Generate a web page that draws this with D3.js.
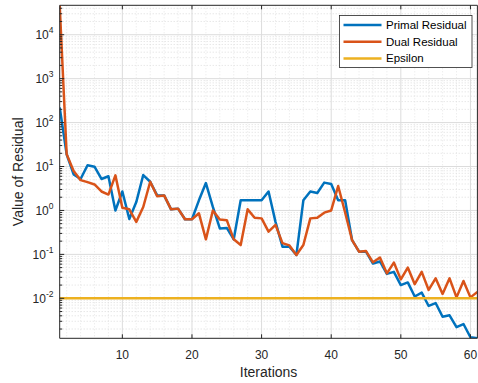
<!DOCTYPE html>
<html><head><meta charset="utf-8">
<script src="https://cdn.jsdelivr.net/npm/d3@7"></script>
<style>
body{margin:0;background:#fff;}
text{font-family:Arial,"Liberation Sans",Helvetica,sans-serif;}
</style></head>
<body>
<svg id="c" width="478" height="383"></svg>
<script>
const iterations = d3.range(1, 62);
const primalResidual = [220,19,6.6,5.2,10.7,9.9,5.2,6.0,1.0,2.7,
 0.64,1.55,6.4,4.5,2.2,2.2,1.06,1.1,0.63,0.63,
 1.7,4.2,1.2,0.39,0.4,0.22,1.7,1.7,1.7,1.7,
 2.7,0.55,0.15,0.15,0.097,1.7,2.7,2.5,4.3,4.0,
 1.7,1.7,0.21,0.115,0.115,0.062,0.069,0.036,0.040,0.020,
 0.023,0.011,0.0135,0.0067,0.0078,0.0038,0.0041,0.0022,0.0026,0.0013,0.00123];
const dualResidual = [46700,19,7.9,4.9,4.4,3.9,2.7,2.3,6.3,1.15,
 1.06,0.55,1.2,4.5,2.1,2.2,1.06,1.1,0.63,0.63,
 0.86,0.22,1.0,0.62,0.6,0.22,0.163,1.06,0.68,0.66,
 0.33,0.47,0.18,0.16,0.097,0.163,0.66,0.68,0.89,1.0,
 3.6,0.9,0.21,0.115,0.119,0.066,0.085,0.037,0.065,0.027,
 0.050,0.021,0.040,0.0155,0.0285,0.0126,0.0285,0.0105,0.0248,0.0105,0.014];
const epsilon = iterations.map(() => 0.01);
const seriesNames = ["Primal Residual","Dual Residual","Epsilon"];
const seriesColors = ["#0072BD","#D95319","#EDB120"];
const xTicks = [10,20,30,40,50,60];
const yTickExps = [-2,-1,0,1,2,3,4];

const svg = d3.select("#c");
const L = 59.7, R = 477.4, T = 5.3, B = 338.3;
const all = primalResidual.concat(dualResidual, epsilon);
const x = d3.scaleLinear().domain([1, 61]).range([L, R]);
const y = d3.scaleLog().domain(d3.extent(all)).range([B, T]);
const [y0, y1] = y.domain();

const grid = svg.append("g");
const minorY = [];
for (let e = -4; e <= 5; e++) for (let m = 2; m <= 9; m++) {
  const v = m * Math.pow(10, e);
  if (v > y0 && v < y1) minorY.push(v);
}
grid.selectAll(".mgy").data(minorY).join("line")
  .attr("x1", L).attr("x2", R).attr("y1", d => y(d)).attr("y2", d => y(d))
  .attr("stroke", "#cfcfcf").attr("stroke-width", 0.7).attr("stroke-dasharray", "1,2");
const minorX = d3.range(2, 61, 2).filter(v => v % 10 !== 0);
grid.selectAll(".mgx").data(minorX).join("line")
  .attr("y1", T).attr("y2", B).attr("x1", d => x(d)).attr("x2", d => x(d))
  .attr("stroke", "#dcdcdc").attr("stroke-width", 0.7).attr("stroke-dasharray", "1,2");
const majorY = yTickExps.map(e => Math.pow(10, e));
grid.selectAll(".gy").data(majorY).join("line")
  .attr("x1", L).attr("x2", R).attr("y1", d => y(d)).attr("y2", d => y(d))
  .attr("stroke", "#dcdcdc").attr("stroke-width", 1);
grid.selectAll(".gx").data(xTicks).join("line")
  .attr("y1", T).attr("y2", B).attr("x1", d => x(d)).attr("x2", d => x(d))
  .attr("stroke", "#dcdcdc").attr("stroke-width", 1);

svg.append("clipPath").attr("id", "clip").append("rect")
  .attr("x", L).attr("y", T).attr("width", R - L).attr("height", B - T);
const line = d3.line().x((d, i) => x(iterations[i])).y(d => y(d));
const data = [primalResidual, dualResidual, epsilon];
svg.append("g").attr("clip-path", "url(#clip)").selectAll("path").data(data).join("path")
  .attr("d", line).attr("fill", "none")
  .attr("stroke", (d, i) => seriesColors[i]).attr("stroke-width", 2.5)
  .attr("stroke-linejoin", "round");

const ax = svg.append("g").attr("stroke", "#262626").attr("stroke-width", 1);
ax.append("line").attr("x1", L).attr("x2", L).attr("y1", T).attr("y2", B);
ax.append("line").attr("x1", L).attr("x2", R).attr("y1", B).attr("y2", B);
ax.append("line").attr("x1", L).attr("x2", R).attr("y1", T).attr("y2", T);
ax.append("line").attr("x1", R).attr("x2", R).attr("y1", T).attr("y2", B);
xTicks.forEach(v => {
  ax.append("line").attr("x1", x(v)).attr("x2", x(v)).attr("y1", B).attr("y2", B - 4);
  ax.append("line").attr("x1", x(v)).attr("x2", x(v)).attr("y1", T).attr("y2", T + 4);
});
majorY.forEach(v => {
  ax.append("line").attr("x1", L).attr("x2", L + 4.5).attr("y1", y(v)).attr("y2", y(v));
});
minorY.forEach(v => {
  ax.append("line").attr("x1", L).attr("x2", L + 2.5).attr("y1", y(v)).attr("y2", y(v));
});

const lab = svg.append("g").attr("fill", "#262626");
xTicks.forEach(v => {
  lab.append("text").attr("x", x(v)).attr("y", 358.5).attr("text-anchor", "middle")
    .attr("font-size", 12).text(v);
});
yTickExps.forEach(e => {
  const t = lab.append("text").attr("x", 53.5).attr("y", y(Math.pow(10, e)) + 4.5)
    .attr("text-anchor", "end").attr("font-size", 12);
  t.append("tspan").text("10");
  t.append("tspan").attr("font-size", 8.5).attr("dy", -6).text(e);
});
lab.append("text").attr("x", x(31)).attr("y", 376.5).attr("text-anchor", "middle")
  .attr("font-size", 14).text("Iterations");
lab.append("text").attr("transform", "translate(23," + ((T + B) / 2) + ") rotate(-90)")
  .attr("text-anchor", "middle").attr("font-size", 14).text("Value of Residual");

const lg = svg.append("g");
lg.append("rect").attr("x", 339.5).attr("y", 15.5).attr("width", 132.5).attr("height", 52)
  .attr("fill", "#fff").attr("stroke", "#262626").attr("stroke-width", 0.8);
seriesNames.forEach((n, i) => {
  const yy = 25 + i * 16.7;
  lg.append("line").attr("x1", 343.5).attr("x2", 381.5).attr("y1", yy).attr("y2", yy)
    .attr("stroke", seriesColors[i]).attr("stroke-width", 2.5);
  lg.append("text").attr("x", 386).attr("y", yy + 4).attr("font-size", 11.5)
    .attr("fill", "#000").text(n);
});
</script>
</body></html>
